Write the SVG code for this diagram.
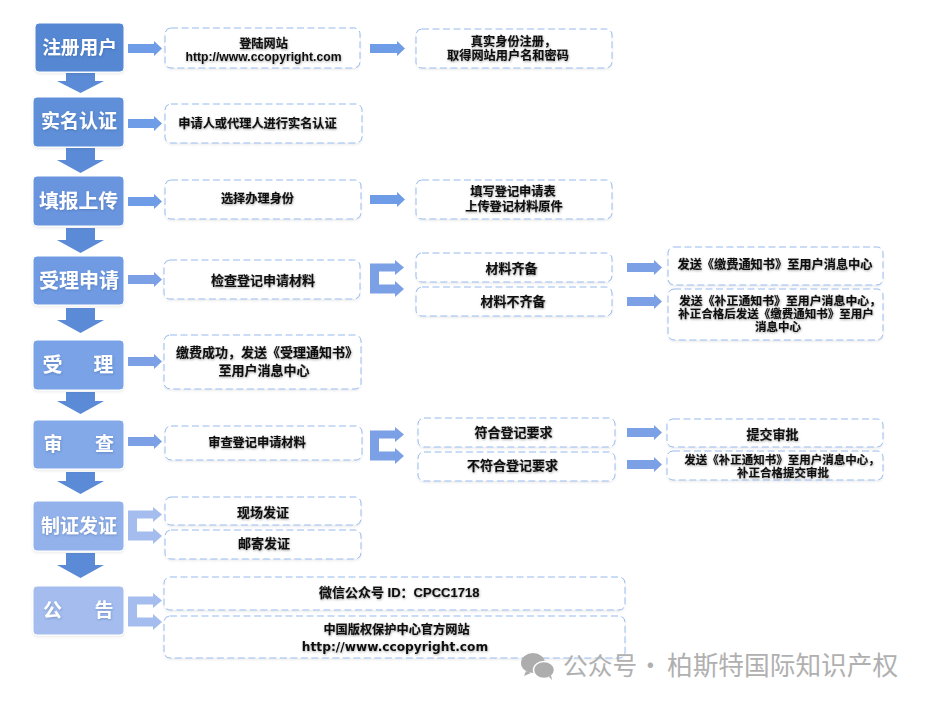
<svg xmlns="http://www.w3.org/2000/svg" width="928" height="703" viewBox="0 0 928 703">
<style>
text{font-family:"Liberation Sans","Noto Sans CJK SC",sans-serif;text-anchor:middle}
.h{font-size:19px;font-weight:700;fill:#fff;filter:url(#hs)}
.b{font-size:12.200px;font-weight:700;fill:#111;stroke:#111;stroke-width:.15;filter:url(#ts)}
.l{font-size:13px}
.s{font-size:11.500px}
.u{font-size:12.200px;font-weight:700;fill:#111;filter:url(#ts)}
.m{font-family:"DejaVu Sans","Noto Sans CJK SC",sans-serif;font-size:12.200px;font-weight:700;fill:#111;filter:url(#ts)}
.box{fill:#fff;stroke:#7ea8e8;stroke-width:.8;stroke-dasharray:7 3.500;filter:url(#bs)}
.n{stroke:#fff;stroke-width:1;filter:url(#bs)}
.c1{fill:#5b8bd6}.c2{fill:#6f9ce6}.c3{fill:#7ba0e6}.c4{fill:#a4bdee}
.wm{font-family:"Noto Sans CJK SC",sans-serif;font-size:25.700px;fill:#b0b0b0;text-anchor:start}
</style>
<defs>
<filter id="ts" x="-10%" y="-30%" width="120%" height="170%"><feDropShadow dx="0.5" dy="1" stdDeviation="1" flood-color="#000" flood-opacity="0.35"/></filter>
<filter id="hs" x="-10%" y="-30%" width="120%" height="170%"><feDropShadow dx="0.5" dy="1" stdDeviation="0.8" flood-color="#2a4a80" flood-opacity="0.35"/></filter>
<filter id="bs" x="-5%" y="-10%" width="110%" height="125%"><feDropShadow dx="0" dy="1.500" stdDeviation="1" flood-color="#000" flood-opacity="0.08"/></filter>
<path id="ar" d="M0 3H26V0L34 7.500L26 15V12H0Z"/>
<path id="ar2" d="M0 3H27V0L35 7.500L27 15V12H0Z"/>
<path id="dn" d="M9 0H38V8H47L23.500 20L0 8H9Z"/>
<path id="dnm" d="M9 0H38V9H47L23.500 22L0 9H9Z"/>
<path id="dnl" d="M9 0H38V12H47L23.500 25L0 12H9Z"/>
<path id="fk" d="M0 3.500H25V0L34 7.500L25 15V11.500H9V24.500H25V21L34 29L25 37V33.500H0Z"/>
</defs>
<rect width="928" height="703" fill="#fff"/>
<g id="connectors">
<use href="#ar" class="c2" x="128" y="41"/>
<use href="#ar2" class="c2" x="370" y="41"/>
<use href="#ar" class="c2" x="128" y="116"/>
<use href="#ar" class="c2" x="128" y="194"/>
<use href="#ar2" class="c2" x="370" y="192"/>
<use href="#ar" class="c3" x="128" y="272"/>
<use href="#fk" class="c3" x="370" y="260"/>
<use href="#ar2" class="c3" x="627" y="260"/>
<use href="#ar2" class="c3" x="627" y="294"/>
<use href="#ar" class="c3" x="128" y="354"/>
<use href="#ar" class="c3" x="128" y="434"/>
<use href="#fk" class="c3" x="370" y="427"/>
<use href="#ar2" class="c3" x="627" y="425"/>
<use href="#ar2" class="c3" x="627" y="457"/>
<use href="#fk" class="c4" x="128" y="507"/>
<use href="#fk" class="c4" x="128" y="593"/>
<use href="#dn" class="c1" x="57" y="73"/>
<use href="#dnl" class="c1" x="57" y="148"/>
<use href="#dnl" class="c1" x="57" y="228"/>
<use href="#dnl" class="c1" x="57" y="308"/>
<use href="#dnm" class="c1" x="57" y="392"/>
<use href="#dnm" class="c1" x="57" y="472"/>
<use href="#dnl" class="c1" x="57" y="553"/>
</g>
<g id="step1"><rect class="n" x="35" y="23" width="89" height="49" rx="4" fill="#5587d2"/><text class="h" x="79.500" y="54" style="font-size:18.700px">注册用户</text></g>
<g id="step2"><rect class="n" x="33" y="97" width="91" height="50" rx="4" fill="#5f8fd8"/><text class="h" x="79" y="128">实名认证</text></g>
<g id="step3"><rect class="n" x="33" y="176" width="91" height="50" rx="4" fill="#6995df"/><text class="h" x="78.500" y="208" style="font-size:19.800px">填报上传</text></g>
<g id="step4"><rect class="n" x="33" y="256" width="91" height="49" rx="4" fill="#6f9be3"/><text class="h" x="79" y="288" style="font-size:20px">受理申请</text></g>
<g id="step5"><rect class="n" x="33" y="340" width="91" height="50" rx="4" fill="#7aa2e6"/><text class="h" x="52.500 103.500" y="372" style="font-size:20px">受理</text></g>
<g id="step6"><rect class="n" x="33" y="420" width="91" height="49" rx="4" fill="#84a9e8"/><text class="h" x="53 104.500" y="451">审查</text></g>
<g id="step7"><rect class="n" x="33" y="501" width="91" height="50" rx="4" fill="#93b2eb"/><text class="h" x="79" y="533">制证发证</text></g>
<g id="step8"><rect class="n" x="33" y="586" width="91" height="49" rx="4" fill="#a4bdee"/><text class="h" x="52.500 104" y="617">公告</text></g>

<g id="b1a"><rect class="box" x="165" y="28" width="195" height="40" rx="6"/><text class="b" x="263.500" y="47.500">登陆网站</text><text class="u" x="263.500" y="60.800">http://www.ccopyright.com</text></g>
<g id="b1b"><rect class="box" x="416" y="29" width="196" height="39" rx="6"/><text class="b" x="513.500" y="46">真实身份注册，</text><text class="b" x="508" y="60">取得网站用户名和密码</text></g>
<g id="b2"><rect class="box" x="165" y="104" width="197" height="39" rx="6"/><text class="b" x="257.500" y="128">申请人或代理人进行实名认证</text></g>
<g id="b3a"><rect class="box" x="165" y="180" width="196" height="39" rx="6"/><text class="b" x="257.500" y="203">选择办理身份</text></g>
<g id="b3b"><rect class="box" x="416" y="180" width="196" height="39" rx="6"/><text class="b" x="513" y="196">填写登记申请表</text><text class="b" x="514" y="211">上传登记材料原件</text></g>
<g id="b4a"><rect class="box" x="164" y="260" width="196" height="39" rx="6"/><text class="b l" x="263" y="285">检查登记申请材料</text></g>
<g id="b4b"><rect class="box" x="416" y="253" width="196" height="29" rx="6"/><text class="b l" x="511.500" y="273">材料齐备</text></g>
<g id="b4c"><rect class="box" x="416" y="287" width="196" height="29" rx="6"/><text class="b l" x="513" y="306">材料不齐备</text></g>
<g id="b4d"><rect class="box" x="668" y="247" width="215" height="38" rx="6"/><text class="b" x="775" y="269">发送《缴费通知书》至用户消息中心</text></g>
<g id="b4e"><rect class="box" x="668" y="289" width="215" height="51" rx="6"/><text class="b s" x="780" y="304.500" style="font-size:11.900px">发送《补正通知书》至用户消息中心，</text><text class="b s" x="776" y="317.500">补正合格后发送《缴费通知书》至用户</text><text class="b s" x="778" y="330.500">消息中心</text></g>
<g id="b5"><rect class="box" x="164" y="335" width="197" height="54" rx="6"/><text class="b l" x="267" y="357">缴费成功，发送《受理通知书》</text><text class="b l" x="264" y="375">至用户消息中心</text></g>
<g id="b6a"><rect class="box" x="165" y="426" width="197" height="34" rx="6"/><text class="b" x="257" y="447">审查登记申请材料</text></g>
<g id="b6b"><rect class="box" x="418" y="418" width="197" height="29" rx="6"/><text class="b l" x="513.500" y="437">符合登记要求</text></g>
<g id="b6c"><rect class="box" x="418" y="452" width="197" height="29" rx="6"/><text class="b l" x="512.500" y="470">不符合登记要求</text></g>
<g id="b6d"><rect class="box" x="667" y="419" width="216" height="28" rx="6"/><text class="b l" x="772.500" y="439">提交审批</text></g>
<g id="b6e"><rect class="box" x="667" y="451" width="216" height="29" rx="6"/><text class="b s" x="782" y="464">发送《补正通知书》至用户消息中心，</text><text class="b s" x="783" y="477">补正合格提交审批</text></g>
<g id="b7a"><rect class="box" x="165" y="497" width="196" height="28" rx="6"/><text class="b l" x="263" y="517">现场发证</text></g>
<g id="b7b"><rect class="box" x="165" y="530" width="196" height="29" rx="6"/><text class="b l" x="264" y="548">邮寄发证</text></g>
<g id="b8a"><rect class="box" x="164" y="577" width="461" height="33" rx="6"/><text class="b" x="319" y="597" style="text-anchor:start;font-size:13px">微信公众号 ID：CPCC1718</text></g>
<g id="b8b"><rect class="box" x="164" y="616" width="461" height="42" rx="6"/><text class="b" x="396.500" y="634">中国版权保护中心官方网站</text><text class="m" x="395" y="651">http://www.ccopyright.com</text></g>

<g id="watermark"><ellipse cx="533" cy="663" rx="12" ry="10" fill="#adadad"/><path d="M526 671l-2 5 7-3Z" fill="#adadad"/><ellipse cx="544" cy="670" rx="10.500" ry="8.500" fill="#adadad" stroke="#fff" stroke-width="1.500"/><path d="M549 677l3 3-1-5Z" fill="#adadad"/><text class="wm" y="675"><tspan x="563" style="font-size:24.700px">公众号</tspan><tspan x="637.500">·</tspan><tspan x="667">柏斯特国际知识产权</tspan></text></g>
</svg>
